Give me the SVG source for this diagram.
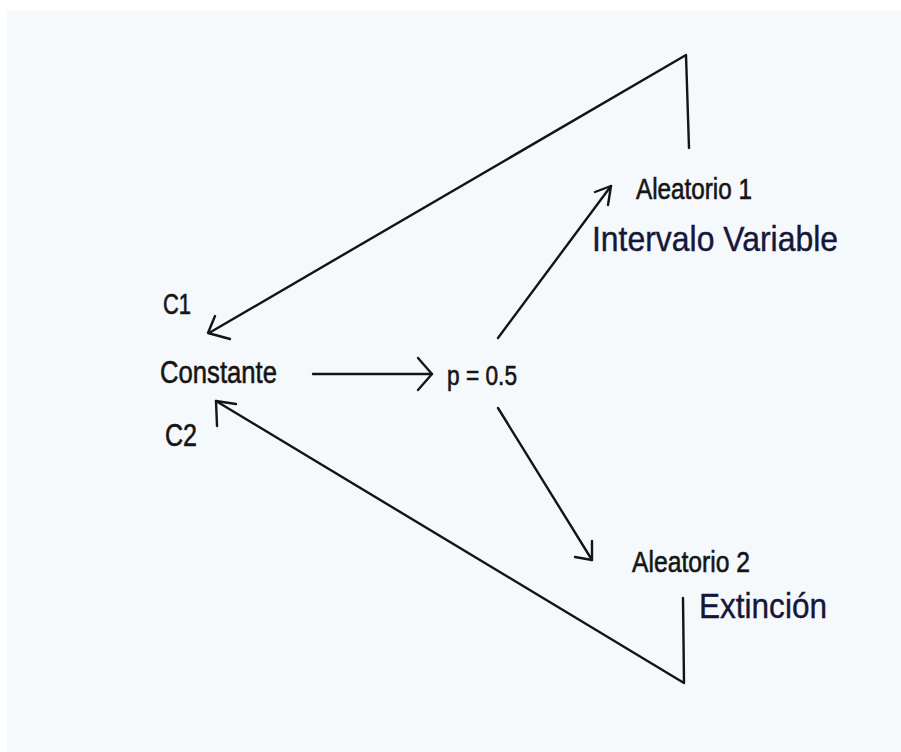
<svg xmlns="http://www.w3.org/2000/svg" width="901" height="752" viewBox="0 0 901 752">
<style>
.lbl{font-family:"Liberation Sans",Arial,sans-serif;fill:#151515;stroke:#151515;stroke-width:0.6}
.big{font-family:"Liberation Sans",Arial,sans-serif;fill:#16163a;stroke:#16163a;stroke-width:0.4}
.ln{fill:none;stroke:#141414;stroke-width:2.4;stroke-linecap:round;stroke-linejoin:round}
</style>
<rect x="0" y="0" width="901" height="752" fill="#ffffff"/>
<rect x="7" y="11" width="894" height="741" fill="#f5f9fc"/>
<g id="connectors">
<path class="ln" d="M689,148 L686,55 L209,333"/>
<path class="ln" d="M215,316 L208,333 L230,339"/>
<path class="ln" d="M313,374 L432,374"/>
<path class="ln" d="M418,358 L432,374 L418,390"/>
<path class="ln" d="M498,338 L611,186"/>
<path class="ln" d="M595,192 L611,186 L608,205"/>
<path class="ln" d="M498,408 L592,560"/>
<path class="ln" d="M575,557 L592,560 L592,541"/>
<path class="ln" d="M683,598 L684,683 L216,401"/>
<path class="ln" d="M236,404 L216,401 L217,426"/>
</g>
<g id="c1"><text class="lbl" x="163" y="314" font-size="29" textLength="28" lengthAdjust="spacingAndGlyphs">C1</text></g>
<g id="constante"><text class="lbl" x="160" y="383" font-size="32" textLength="117" lengthAdjust="spacingAndGlyphs">Constante</text></g>
<g id="c2"><text class="lbl" x="165" y="446" font-size="31" textLength="32" lengthAdjust="spacingAndGlyphs">C2</text></g>
<g id="p"><text class="lbl" x="447" y="385" font-size="27" textLength="70" lengthAdjust="spacingAndGlyphs">p = 0.5</text></g>
<g id="aleatorio1">
<text class="lbl" x="636" y="199" font-size="29" textLength="116" lengthAdjust="spacingAndGlyphs">Aleatorio 1</text>
<text class="big" x="592" y="251" font-size="35" textLength="246" lengthAdjust="spacingAndGlyphs">Intervalo Variable</text>
</g>
<g id="aleatorio2">
<text class="lbl" x="632" y="572" font-size="29" textLength="118" lengthAdjust="spacingAndGlyphs">Aleatorio 2</text>
<text class="big" x="699" y="618" font-size="35" textLength="128" lengthAdjust="spacingAndGlyphs">Extinción</text>
</g>
</svg>
